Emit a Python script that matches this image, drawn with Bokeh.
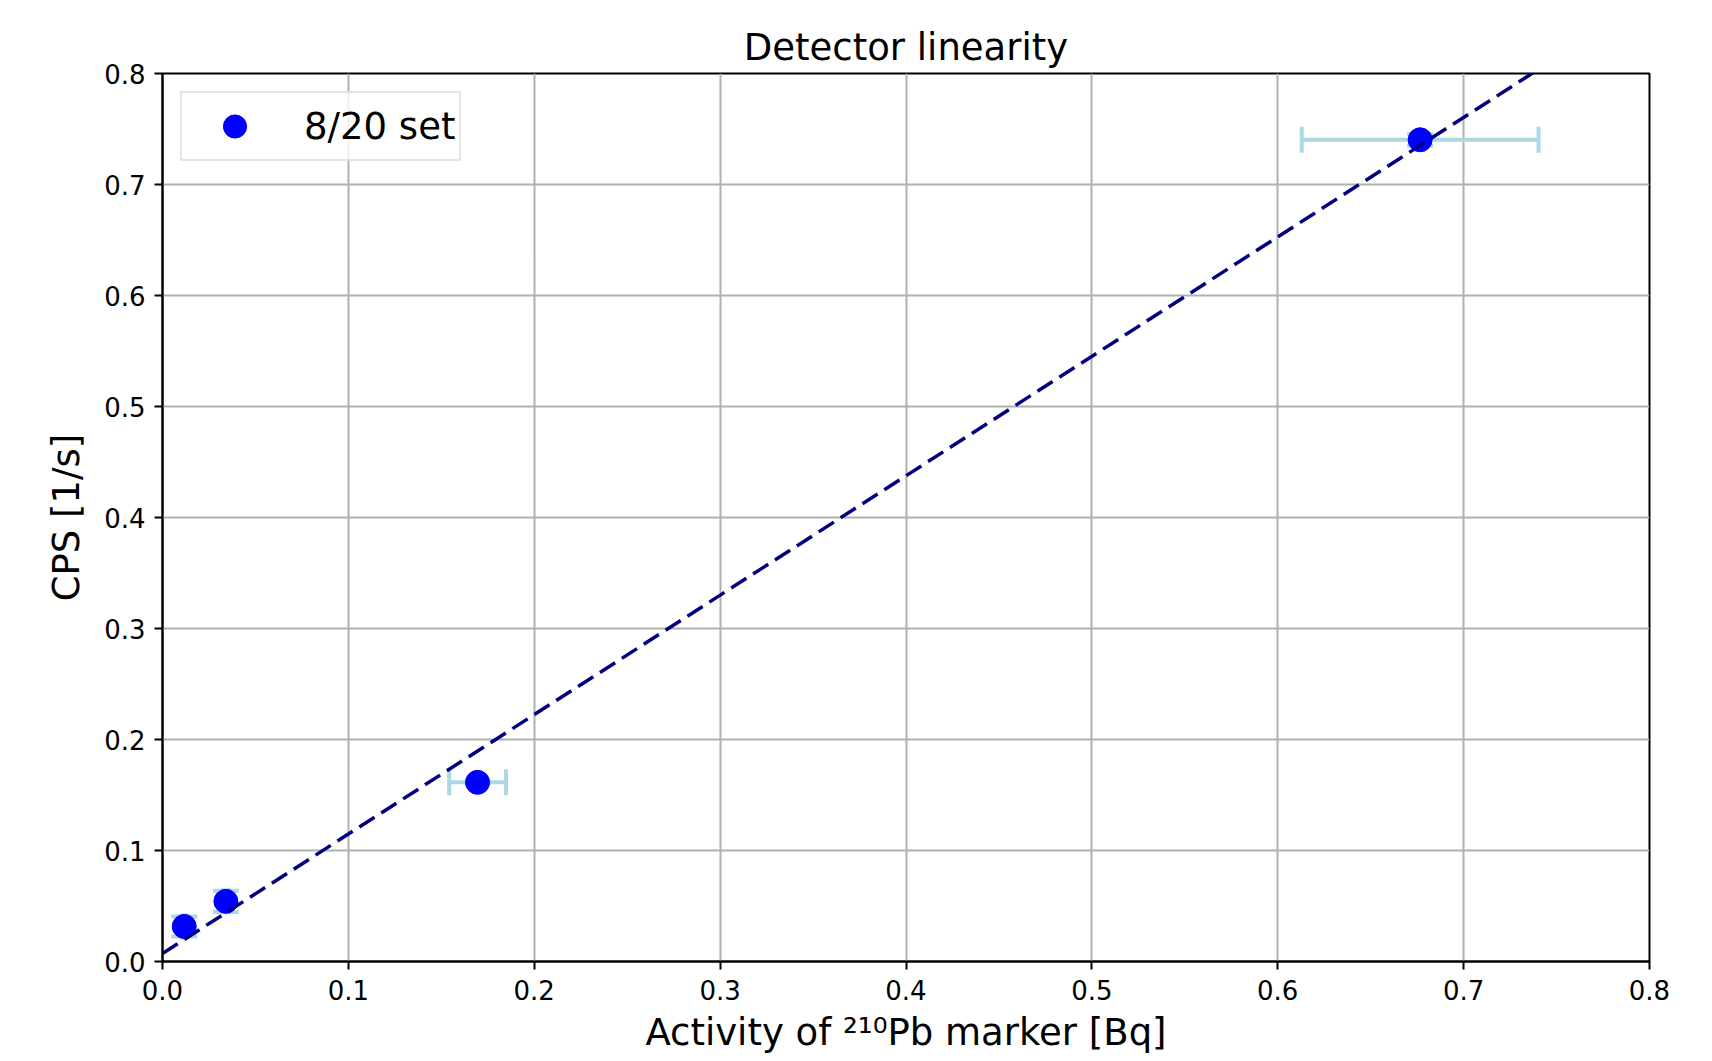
from bokeh.plotting import figure
from bokeh.models import (ColumnDataSource, FixedTicker, Legend, LegendItem,
                          NumeralTickFormatter, Range1d)
from bokeh.embed import file_html
from bokeh.resources import INLINE
import numpy as np

# ---- data ----
activity = [0.0117, 0.0341, 0.1695, 0.6766]      # Bq
cps = [0.0316, 0.0542, 0.1614, 0.7403]           # 1/s
activity_err = [0.0010, 0.0015, 0.0153, 0.0637]
cps_err = [0.0090, 0.0095, 0.0010, 0.0054]
fit_x = [0.0, 0.8]
fit_y = [0.0072, 0.8680]
ticks = [0.0, 0.1, 0.2, 0.3, 0.4, 0.5, 0.6, 0.7, 0.8]

FONT = "DejaVu Sans"
ERR_COLOR = "#add8e6"

x = np.array(activity); y = np.array(cps)
xe = np.array(activity_err); ye = np.array(cps_err)

p = figure(width=1712, height=1061, output_backend="svg", toolbar_location=None,
           x_range=Range1d(0, 0.8), y_range=Range1d(0, 0.8),
           min_border_left=162, min_border_right=63,
           min_border_top=73, min_border_bottom=100,
           title="Detector linearity")

p.title.align = "center"
p.title.text_font = FONT
p.title.text_font_size = "37px"
p.title.text_font_style = "normal"
p.title.text_color = "black"
p.title.standoff = 10

p.outline_line_color = "black"
p.outline_line_width = 2
p.background_fill_color = "white"
p.border_fill_color = "white"

for ax in (p.xaxis[0], p.yaxis[0]):
    ax.ticker = FixedTicker(ticks=ticks)
    ax.formatter = NumeralTickFormatter(format="0.0")
    ax.major_label_text_font = FONT
    ax.major_label_text_font_size = "26px"
    ax.major_label_text_color = "black"
    ax.axis_label_text_font = FONT
    ax.axis_label_text_font_size = "37px"
    ax.axis_label_text_font_style = "normal"
    ax.axis_label_text_color = "black"
    ax.major_tick_in = 0
    ax.major_tick_out = 8
    ax.major_tick_line_width = 2
    ax.minor_tick_line_color = None
    ax.axis_line_width = 2
    ax.axis_line_color = "black"

p.xaxis.axis_label = "Activity of \u00b2\u00b9\u2070Pb marker [Bq]"
p.yaxis.axis_label = "CPS [1/s]"
p.xaxis.major_label_standoff = 10
p.yaxis.major_label_standoff = 9
p.xaxis.axis_label_standoff = 8
p.yaxis.axis_label_standoff = 13

for g in (p.xgrid[0], p.ygrid[0]):
    g.grid_line_color = "#b0b0b0"
    g.grid_line_width = 2

# error bars
err_src = ColumnDataSource(dict(x=x, y=y, xl=x - xe, xr=x + xe, yl=y - ye, yu=y + ye))
p.segment(x0="xl", y0="y", x1="xr", y1="y", source=err_src,
          line_color=ERR_COLOR, line_width=4)
p.segment(x0="x", y0="yl", x1="x", y1="yu", source=err_src,
          line_color=ERR_COLOR, line_width=4)
p.scatter(x="xl", y="y", source=err_src, marker="dash", size=26, angle=np.pi / 2,
          line_color=ERR_COLOR, line_width=4)
p.scatter(x="xr", y="y", source=err_src, marker="dash", size=26, angle=np.pi / 2,
          line_color=ERR_COLOR, line_width=4)
p.scatter(x="x", y="yl", source=err_src, marker="dash", size=26,
          line_color=ERR_COLOR, line_width=4)
p.scatter(x="x", y="yu", source=err_src, marker="dash", size=26,
          line_color=ERR_COLOR, line_width=4)

pts = p.scatter(x="x", y="y", source=err_src, marker="circle", size=24,
                fill_color="blue", line_color="blue")

# fit line
p.line(fit_x, fit_y, line_color="navy", line_width=3.5, line_dash="18 8")

legend = Legend(items=[LegendItem(label="8/20 set", renderers=[pts])],
                location="top_left", margin=18, padding=4, spacing=0,
                glyph_width=97, glyph_height=58, label_standoff=21,
                label_text_font=FONT, label_text_font_size="37px",
                label_text_color="black",
                border_line_color="#cccccc", border_line_width=2,
                background_fill_alpha=0.8)
p.add_layout(legend)

open("out.html", "w").write(file_html(p, INLINE))
